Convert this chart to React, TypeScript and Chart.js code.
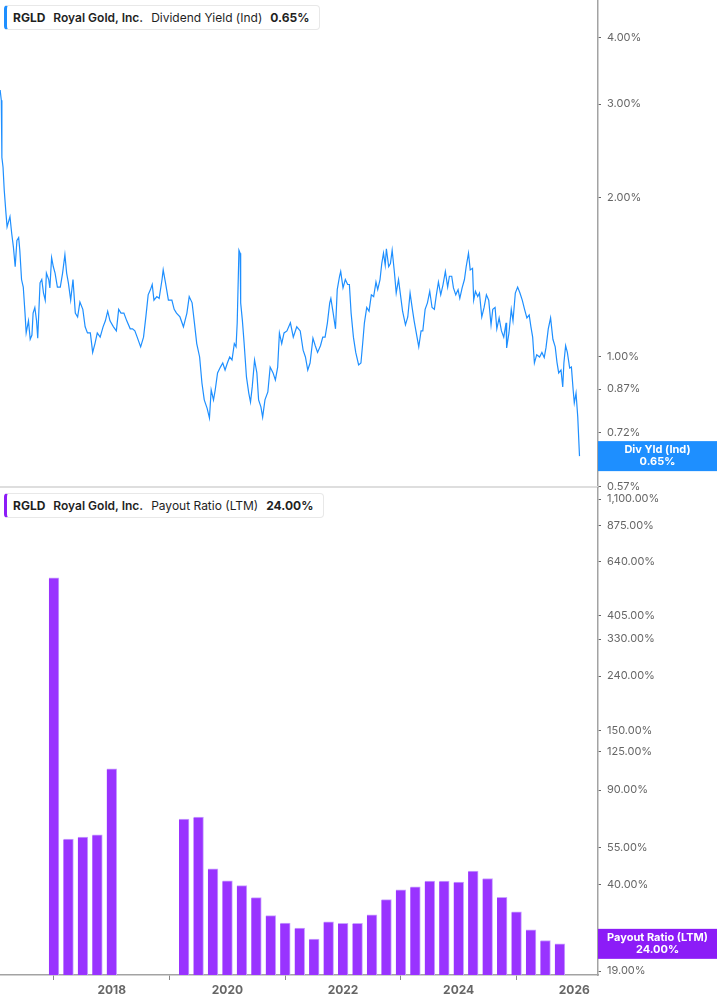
import Chart from 'chart.js/auto';
import { useEffect, useRef } from 'react';

// Dividend yield (Ind), %
const yieldDates = [
  2016.07, 2016.09, 2016.1, 2016.12, 2016.14, 2016.17, 2016.19, 2016.24, 2016.27, 2016.3,
  2016.33, 2016.36, 2016.39, 2016.41, 2016.44, 2016.47, 2016.5, 2016.52, 2016.56, 2016.59,
  2016.62, 2016.64, 2016.67, 2016.7, 2016.72, 2016.76, 2016.79, 2016.82, 2016.85, 2016.87,
  2016.91, 2016.93, 2016.96, 2016.99, 2017.02, 2017.06, 2017.11, 2017.15, 2017.19, 2017.22,
  2017.25, 2017.29, 2017.33, 2017.37, 2017.41, 2017.45, 2017.5, 2017.54, 2017.58, 2017.63,
  2017.67, 2017.71, 2017.75, 2017.8, 2017.85, 2017.89, 2017.93, 2017.97, 2018.03, 2018.08,
  2018.12, 2018.16, 2018.21, 2018.26, 2018.32, 2018.36, 2018.4, 2018.44, 2018.5, 2018.55,
  2018.59, 2018.63, 2018.67, 2018.7, 2018.73, 2018.78, 2018.82, 2018.87, 2018.89, 2018.93,
  2018.98, 2019.04, 2019.08, 2019.12, 2019.18, 2019.24, 2019.3, 2019.34, 2019.39, 2019.43,
  2019.47, 2019.52, 2019.56, 2019.6, 2019.65, 2019.69, 2019.72, 2019.76, 2019.79, 2019.83,
  2019.88, 2019.92, 2019.96, 2020.0, 2020.04, 2020.08, 2020.12, 2020.15, 2020.17, 2020.2,
  2020.22, 2020.23, 2020.26, 2020.29, 2020.33, 2020.37, 2020.4, 2020.43, 2020.47, 2020.51,
  2020.54, 2020.58, 2020.61, 2020.65, 2020.7, 2020.74, 2020.79, 2020.83, 2020.87, 2020.9,
  2020.94, 2020.98, 2021.03, 2021.09, 2021.14, 2021.2, 2021.26, 2021.31, 2021.35, 2021.39,
  2021.43, 2021.48, 2021.52, 2021.56, 2021.61, 2021.65, 2021.69, 2021.73, 2021.77, 2021.79,
  2021.83, 2021.87, 2021.9, 2021.94, 2021.96, 2022.0, 2022.04, 2022.08, 2022.11, 2022.14,
  2022.18, 2022.22, 2022.27, 2022.31, 2022.34, 2022.37, 2022.41, 2022.45, 2022.49, 2022.53,
  2022.57, 2022.6, 2022.64, 2022.67, 2022.7, 2022.73, 2022.75, 2022.79, 2022.82, 2022.85,
  2022.89, 2022.92, 2022.96, 2022.99, 2023.03, 2023.08, 2023.12, 2023.16, 2023.2, 2023.23,
  2023.28, 2023.31, 2023.35, 2023.38, 2023.42, 2023.46, 2023.5, 2023.54, 2023.58, 2023.61,
  2023.65, 2023.69, 2023.73, 2023.77, 2023.81, 2023.84, 2023.88, 2023.91, 2023.95, 2023.99,
  2024.02, 2024.06, 2024.1, 2024.13, 2024.17, 2024.2, 2024.24, 2024.26, 2024.29, 2024.33,
  2024.36, 2024.4, 2024.44, 2024.48, 2024.52, 2024.56, 2024.59, 2024.63, 2024.66, 2024.7,
  2024.74, 2024.78, 2024.82, 2024.83, 2024.87, 2024.91, 2024.94, 2024.98, 2025.02, 2025.06,
  2025.1, 2025.14, 2025.18, 2025.22, 2025.25, 2025.28, 2025.31, 2025.35, 2025.4, 2025.44,
  2025.48, 2025.51, 2025.55, 2025.59, 2025.63, 2025.67, 2025.7, 2025.73, 2025.77, 2025.8,
  2025.82, 2025.85, 2025.88, 2025.92, 2025.95, 2025.98, 2026.0, 2026.03, 2026.06, 2026.09,
];
const yieldValues = [
  3.19, 3.05, 2.38, 2.28, 2.07, 1.87, 1.76, 1.84, 1.71, 1.61,
  1.48, 1.66, 1.68, 1.59, 1.4, 1.355, 1.21, 1.11, 1.17, 1.08,
  1.1, 1.21, 1.24, 1.17, 1.085, 1.38, 1.4, 1.32, 1.28, 1.44,
  1.4, 1.35, 1.54, 1.48, 1.44, 1.355, 1.355, 1.44, 1.56, 1.44,
  1.38, 1.28, 1.4, 1.21, 1.19, 1.27, 1.23, 1.14, 1.11, 1.11,
  1.02, 1.06, 1.11, 1.09, 1.14, 1.17, 1.22, 1.17, 1.14, 1.12,
  1.23, 1.21, 1.21, 1.17, 1.13, 1.13, 1.12, 1.09, 1.045, 1.09,
  1.19, 1.31, 1.34, 1.37, 1.28, 1.3, 1.29, 1.4, 1.46, 1.38,
  1.28, 1.28, 1.23, 1.21, 1.19, 1.14, 1.21, 1.3, 1.265, 1.16,
  1.06, 1.0, 0.893, 0.83, 0.8, 0.767, 0.867, 0.83, 0.867, 0.933,
  0.957, 0.974, 0.945, 0.974, 1.0, 0.987, 1.06, 1.045, 1.16, 1.59,
  1.57, 1.265, 1.17, 1.06, 0.917, 0.855, 0.822, 0.878, 0.987, 0.933,
  0.83, 0.805, 0.77, 0.83, 0.859, 0.957, 0.933, 0.905, 0.957, 1.11,
  1.06, 1.11, 1.12, 1.16, 1.09, 1.14, 1.12, 1.03, 1.0, 0.945,
  0.974, 1.085, 1.05, 1.02, 1.05, 1.09, 1.09, 1.16, 1.265, 1.29,
  1.21, 1.13, 1.34, 1.42, 1.45, 1.35, 1.4, 1.37, 1.37, 1.21,
  1.09, 1.02, 0.966, 0.974, 1.06, 1.16, 1.24, 1.22, 1.31, 1.3,
  1.385, 1.34, 1.4, 1.5, 1.57, 1.49, 1.6, 1.48, 1.5, 1.59,
  1.44, 1.32, 1.4, 1.32, 1.22, 1.15, 1.19, 1.32, 1.23, 1.17,
  1.09, 1.045, 1.12, 1.12, 1.23, 1.265, 1.33, 1.24, 1.23, 1.3,
  1.385, 1.31, 1.37, 1.45, 1.355, 1.42, 1.42, 1.35, 1.31, 1.34,
  1.29, 1.35, 1.4, 1.48, 1.57, 1.46, 1.47, 1.28, 1.33, 1.3,
  1.32, 1.19, 1.24, 1.31, 1.28, 1.15, 1.23, 1.24, 1.13, 1.185,
  1.12, 1.09, 1.16, 1.04, 1.11, 1.23, 1.17, 1.32, 1.355, 1.32,
  1.28, 1.23, 1.185, 1.2, 1.14, 1.09, 0.974, 1.01, 1.0, 1.02,
  0.998, 1.04, 1.13, 1.185, 1.08, 1.045, 0.978, 0.933, 0.945, 0.878,
  0.974, 1.05, 1.02, 0.953, 0.957, 0.867, 0.819, 0.855, 0.77, 0.65,
];

// Payout ratio (LTM), % — quarter ends as decimal years
const payoutQuarters = [
  2017.0, 2017.25, 2017.5, 2017.75, 2018.0,
  2019.25, 2019.5, 2019.75, 2020.0, 2020.25, 2020.5, 2020.75, 2021.0,
  2021.25, 2021.5, 2021.75, 2022.0, 2022.25, 2022.5, 2022.75, 2023.0,
  2023.25, 2023.5, 2023.75, 2024.0, 2024.25, 2024.5, 2024.75, 2025.0,
  2025.25, 2025.5, 2025.75,
];
const payoutValues = [
  558, 59.1, 60.1, 61.3, 108,
  70.2, 71.4, 45.7, 41.3, 39.6, 35.7, 30.6, 28.7,
  27.5, 25.0, 29.0, 28.6, 28.6, 30.8, 35.1, 38.2,
  39.2, 41.2, 41.2, 40.8, 44.9, 42.1, 35.8, 31.6,
  27.1, 24.7, 24.0,
];

const yieldTicks = [0.57, 0.72, 0.87, 1, 2, 3, 4];
const payoutTicks = [19, 40, 55, 90, 125, 150, 240, 330, 405, 640, 875, 1100];
const yearTicks = [2018, 2020, 2022, 2024, 2026];

const X_MIN = 2016.0675;
const X_MAX = 2026.41;
const BLUE = '#1e8fff';
const PURPLE = '#9933ff';
const FONT = 'Inter, "Noto Sans", sans-serif';

Chart.defaults.font.family = FONT;

function pct(v: number) {
  return v.toLocaleString('en-US', { minimumFractionDigits: 2, maximumFractionDigits: 2 }) + '%';
}

function lastValueLabel(title: string, value: number, color: string) {
  return {
    id: 'lastValueLabel',
    afterDraw(chart: any) {
      const { ctx, chartArea, scales } = chart;
      const y = scales.y.getPixelForValue(value);
      ctx.save();
      ctx.fillStyle = color;
      ctx.fillRect(chartArea.right, y - 15, chart.width - chartArea.right, 30);
      ctx.fillStyle = '#fff';
      ctx.font = `bold 11px ${FONT}`;
      ctx.textAlign = 'center';
      ctx.textBaseline = 'middle';
      const cx = (chartArea.right + chart.width) / 2;
      ctx.fillText(title, cx, y - 6);
      ctx.fillText(pct(value), cx, y + 6);
      ctx.restore();
    },
  };
}

function yAxis(min: number, max: number, ticks: number[]) {
  return {
    type: 'logarithmic' as const,
    position: 'right' as const,
    min,
    max,
    afterBuildTicks: (scale: any) => {
      scale.ticks = ticks.map((value) => ({ value }));
    },
    afterFit: (scale: any) => {
      scale.width = 119;
      scale.paddingTop = 0;
      scale.paddingBottom = 0;
    },
    ticks: {
      color: '#666',
      font: { size: 11 },
      padding: 6,
      callback: (v: any) => pct(Number(v)),
    },
    grid: { drawOnChartArea: false, tickLength: 3, tickColor: '#666' },
    border: { color: '#a3a3a3', width: 1.5 },
  };
}

function LegendBox({ accent, metric, value }: { accent: string; metric: string; value: string }) {
  return (
    <div
      style={{
        position: 'absolute',
        left: 4,
        top: 5,
        height: 25,
        display: 'flex',
        alignItems: 'center',
        gap: 8,
        padding: '0 10px 0 6px',
        background: '#fff',
        border: '1px solid #e8e8e8',
        borderLeft: `3px solid ${accent}`,
        borderRadius: 4,
        boxSizing: 'border-box',
        fontFamily: FONT,
        fontSize: 12,
        color: '#1f1f1f',
        whiteSpace: 'nowrap',
      }}
    >
      <span style={{ fontWeight: 700 }}>RGLD</span>
      <span style={{ fontWeight: 600 }}>Royal Gold, Inc.</span>
      <span style={{ fontWeight: 400 }}>{metric}</span>
      <span style={{ fontWeight: 700 }}>{value}</span>
    </div>
  );
}

export default function App() {
  const topRef = useRef<HTMLCanvasElement>(null);
  const bottomRef = useRef<HTMLCanvasElement>(null);

  useEffect(() => {
    if (!topRef.current || !bottomRef.current) return;

    const lastYield = yieldValues[yieldValues.length - 1];
    const lastPayout = payoutValues[payoutValues.length - 1];

    const top = new Chart(topRef.current, {
      type: 'line',
      data: {
        datasets: [
          {
            label: 'Dividend Yield (Ind)',
            data: yieldDates.map((x, i) => ({ x, y: yieldValues[i] })),
            borderColor: BLUE,
            borderWidth: 1.2,
            pointRadius: 0,
            tension: 0,
          },
        ],
      },
      options: {
        animation: false,
        responsive: true,
        maintainAspectRatio: false,
        layout: { padding: { top: 0, left: 0, right: 0, bottom: 10 } },
        plugins: { legend: { display: false }, tooltip: { enabled: false } },
        scales: {
          x: { type: 'linear', min: X_MIN, max: X_MAX, display: false },
          y: yAxis(0.5684, 4.716, yieldTicks),
        },
      },
      plugins: [lastValueLabel('Div Yld (Ind)', lastYield, BLUE)],
    });

    const bottom = new Chart(bottomRef.current, {
      type: 'bar',
      data: {
        datasets: [
          {
            label: 'Payout Ratio (LTM)',
            data: payoutQuarters.map((x, i) => ({ x, y: payoutValues[i] })),
            backgroundColor: PURPLE,
            borderColor: '#c9a3ff',
            borderWidth: { top: 1, right: 1, left: 0, bottom: 0 },
            borderSkipped: 'bottom',
            barThickness: 10,
          },
        ],
      },
      options: {
        animation: false,
        responsive: true,
        maintainAspectRatio: false,
        layout: { padding: 0 },
        plugins: { legend: { display: false }, tooltip: { enabled: false } },
        scales: {
          x: {
            type: 'linear',
            min: X_MIN,
            max: X_MAX,
            offset: false,
            afterBuildTicks: (scale: any) => {
              scale.ticks = yearTicks.map((value) => ({ value }));
            },
            afterFit: (scale: any) => {
              scale.height = 30;
            },
            ticks: {
              color: '#666',
              font: { size: 12, weight: 'bold' },
              padding: 3,
              maxRotation: 0,
              callback: (v: any) => String(v),
            },
            grid: { drawOnChartArea: false, tickLength: 5, tickColor: '#888' },
            border: { color: '#a3a3a3', width: 1.5 },
          },
          y: yAxis(18.36, 1219.6, payoutTicks),
        },
      },
      plugins: [lastValueLabel('Payout Ratio (LTM)', lastPayout, '#8c1cf7')],
    });

    return () => {
      top.destroy();
      bottom.destroy();
    };
  }, []);

  return (
    <div style={{ position: 'absolute', left: 0, top: 0, width: 717, height: 1005, background: '#fff' }}>
      <div style={{ position: 'absolute', left: 0, top: 0, width: 717, height: 497 }}>
        <canvas ref={topRef} />
      </div>
      <div style={{ position: 'absolute', left: 0, top: 486, width: 598, height: 2, background: '#dedede' }} />
      <div style={{ position: 'absolute', left: 0, top: 487, width: 717, height: 518 }}>
        <canvas ref={bottomRef} />
      </div>
      <LegendBox accent={BLUE} metric="Dividend Yield (Ind)" value="0.65%" />
      <div style={{ position: 'absolute', left: 0, top: 488, width: 717, height: 40 }}>
        <LegendBox accent="#8c1cf7" metric="Payout Ratio (LTM)" value="24.00%" />
      </div>
    </div>
  );
}
